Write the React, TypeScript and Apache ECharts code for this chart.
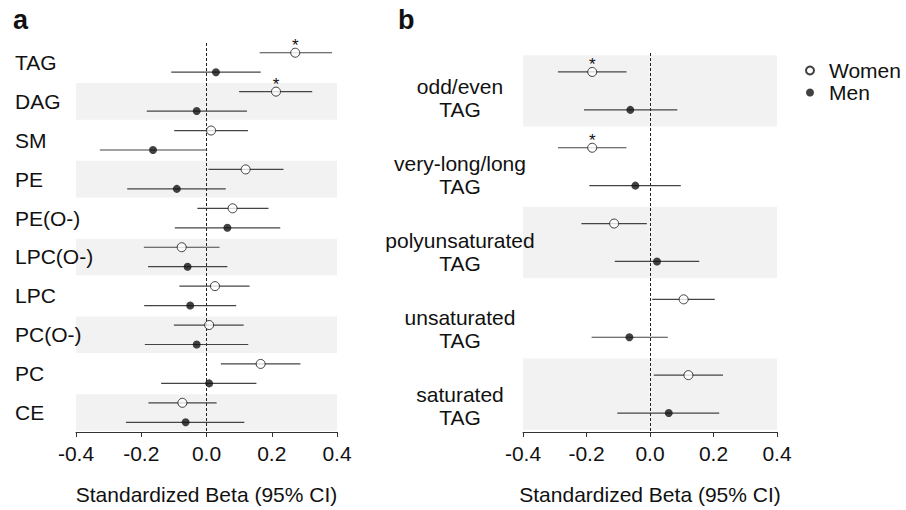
import React, { useEffect, useRef } from "react";
import * as echarts from "echarts";

const FONT = "'Liberation Sans', Arial, Helvetica, sans-serif";

// Panel a
const catsA = ["TAG", "DAG", "SM", "PE", "PE(O-)", "LPC(O-)", "LPC", "PC(O-)", "PC", "CE"];
const womenEstA = [0.272, 0.213, 0.014, 0.12, 0.08, -0.076, 0.026, 0.008, 0.166, -0.074];
const womenLoA = [0.163, 0.1, -0.099, 0.006, -0.028, -0.192, -0.083, -0.1, 0.044, -0.178];
const womenHiA = [0.385, 0.324, 0.127, 0.236, 0.19, 0.04, 0.132, 0.114, 0.288, 0.031];
const womenSigA = [1, 1, 0, 0, 0, 0, 0, 0, 0, 0];
const menEstA = [0.029, -0.03, -0.164, -0.091, 0.064, -0.058, -0.05, -0.03, 0.008, -0.064];
const menLoA = [-0.108, -0.183, -0.327, -0.243, -0.097, -0.179, -0.191, -0.189, -0.139, -0.247];
const menHiA = [0.166, 0.124, 0.0, 0.059, 0.226, 0.064, 0.091, 0.128, 0.153, 0.116];
const menSigA = [0, 0, 0, 0, 0, 0, 0, 0, 0, 0];

// Panel b
const catsB = ["odd/even\nTAG", "very-long/long\nTAG", "polyunsaturated\nTAG", "unsaturated\nTAG", "saturated\nTAG"];
const womenEstB = [-0.182, -0.182, -0.113, 0.106, 0.121];
const womenLoB = [-0.29, -0.29, -0.216, 0.007, 0.012];
const womenHiB = [-0.074, -0.074, -0.01, 0.204, 0.23];
const womenSigB = [1, 1, 0, 0, 0];
const menEstB = [-0.062, -0.046, 0.022, -0.065, 0.059];
const menLoB = [-0.208, -0.191, -0.111, -0.184, -0.103];
const menHiB = [0.086, 0.097, 0.155, 0.056, 0.218];
const menSigB = [0, 0, 0, 0, 0];

const xTicks = [-0.4, -0.2, 0.0, 0.2, 0.4];
const axisTitle = "Standardized Beta (95% CI)";

const OFF = 0.25;
const BAND = 0.47;

function ciRows(est: number[], lo: number[], hi: number[], sig: number[], off: number) {
  return est.map((e, i) => [lo[i], hi[i], i + off, e, sig[i]]);
}

function renderCI(params: any, api: any) {
  const y = api.value(2);
  const a = api.coord([api.value(0), y]);
  const b = api.coord([api.value(1), y]);
  const e = api.coord([api.value(3), y]);
  const children: any[] = [
    {
      type: "line",
      shape: { x1: a[0], y1: a[1], x2: b[0], y2: b[1] },
      style: { stroke: "#444", lineWidth: 1.2 },
    },
  ];
  if (api.value(4)) {
    children.push({
      type: "text",
      style: {
        text: "*",
        x: e[0],
        y: e[1] - 7,
        align: "center",
        verticalAlign: "middle",
        fontSize: 17,
        fontFamily: FONT,
        fill: "#111",
      },
    });
  }
  return { type: "group", children };
}

function panelSeries(
  idx: number,
  cats: string[],
  bandParity: number,
  wE: number[], wL: number[], wH: number[], wS: number[],
  mE: number[], mL: number[], mH: number[], mS: number[]
) {
  const yIdx = idx * 2;
  const bands = cats
    .map((_, i) => i)
    .filter((i) => i % 2 === bandParity)
    .map((i) => [{ yAxis: i - BAND }, { yAxis: i + BAND }]);
  return [
    {
      type: "line",
      xAxisIndex: idx,
      yAxisIndex: yIdx,
      data: [],
      z: 1,
      silent: true,
      markArea: {
        silent: true,
        itemStyle: { color: "#f2f2f2" },
        data: bands,
      },
      markLine: {
        silent: true,
        symbol: ["none", "none"],
        label: { show: false },
        lineStyle: { color: "#222", width: 1, type: [3, 2] },
        data: [{ xAxis: 0 }],
      },
    },
    {
      type: "custom",
      xAxisIndex: idx,
      yAxisIndex: yIdx,
      z: 3,
      silent: true,
      renderItem: renderCI,
      encode: { x: [0, 1, 3], y: 2 },
      data: [...ciRows(wE, wL, wH, wS, -OFF), ...ciRows(mE, mL, mH, mS, OFF)],
    },
    {
      name: "Women",
      type: "scatter",
      xAxisIndex: idx,
      yAxisIndex: yIdx,
      z: 5,
      symbol: "circle",
      symbolSize: 9,
      itemStyle: { color: "#fff", borderColor: "#111", borderWidth: 1 },
      data: wE.map((v, i) => [v, i - OFF]),
    },
    {
      name: "Men",
      type: "scatter",
      xAxisIndex: idx,
      yAxisIndex: yIdx,
      z: 5,
      symbol: "circle",
      symbolSize: 8,
      itemStyle: { color: "#111" },
      data: mE.map((v, i) => [v, i + OFF]),
    },
  ];
}

function xAxisDef(gridIndex: number) {
  return {
    type: "value",
    gridIndex,
    min: xTicks[0],
    max: xTicks[xTicks.length - 1],
    interval: 0.2,
    splitLine: { show: false },
    axisLine: { show: true, onZero: false, lineStyle: { color: "#333", width: 1 } },
    axisTick: { show: true, length: 5, lineStyle: { color: "#333" } },
    axisLabel: {
      fontSize: 21,
      fontFamily: FONT,
      color: "#111",
      margin: 11,
      formatter: (v: number) => v.toFixed(1),
    },
    name: axisTitle,
    nameLocation: "middle",
    nameGap: 52,
    nameTextStyle: { fontSize: 21, fontFamily: FONT, color: "#111" },
  };
}

function hiddenXAxis(gridIndex: number) {
  return { type: "value", gridIndex, min: -0.4, max: 0.4, show: false };
}

function valueYAxis(gridIndex: number, n: number) {
  return {
    type: "value",
    gridIndex,
    min: -0.5,
    max: n - 0.5,
    inverse: true,
    show: false,
    position: "left",
  };
}

function catYAxis(gridIndex: number, cats: string[], align: string, margin: number) {
  return {
    type: "category",
    gridIndex,
    data: cats,
    inverse: true,
    position: "left",
    boundaryGap: true,
    z: 10,
    axisLine: { show: false, onZero: false },
    axisTick: { show: false },
    splitLine: { show: false },
    axisLabel: {
      fontSize: 21,
      fontFamily: FONT,
      color: "#111",
      align,
      margin,
      lineHeight: 23,
      interval: 0,
      overflow: "none",
      hideOverlap: false,
    },
  };
}

export default function App() {
  const ref = useRef<HTMLDivElement>(null);
  useEffect(() => {
    if (!ref.current) return;
    const chart = echarts.init(ref.current, undefined, { renderer: "svg" });
    chart.setOption({
      animation: false,
      backgroundColor: "#fff",
      textStyle: { fontFamily: FONT },
      grid: [
        { left: 76, top: 43, width: 261, height: 394 },
        { left: 523, top: 53, width: 254, height: 384 },
        // label grid for panel b (labels sit slightly below the row centres)
        { left: 523, top: 60, width: 254, height: 384 },
      ],
      xAxis: [xAxisDef(0), xAxisDef(1), hiddenXAxis(2)],
      yAxis: [
        valueYAxis(0, catsA.length),
        catYAxis(0, catsA, "left", 61),
        valueYAxis(1, catsB.length),
        catYAxis(2, catsB, "center", 63),
      ],
      legend: {
        data: ["Women", "Men"],
        orient: "vertical",
        left: 800,
        top: 55,
        itemWidth: 28,
        itemHeight: 8,
        itemGap: 1,
        textStyle: { fontSize: 21, fontFamily: FONT, color: "#111" },
        selectedMode: false,
      },
      graphic: [
        {
          type: "text",
          left: 13,
          top: 6,
          style: { text: "a", fontSize: 27, fontWeight: "bold", fontFamily: FONT, fill: "#111" },
        },
        {
          type: "text",
          left: 398,
          top: 6,
          style: { text: "b", fontSize: 27, fontWeight: "bold", fontFamily: FONT, fill: "#111" },
        },
      ],
      series: [
        ...panelSeries(0, catsA, 1, womenEstA, womenLoA, womenHiA, womenSigA, menEstA, menLoA, menHiA, menSigA),
        ...panelSeries(1, catsB, 0, womenEstB, womenLoB, womenHiB, womenSigB, menEstB, menLoB, menHiB, menSigB),
      ],
    });
    return () => chart.dispose();
  }, []);
  return (
    <div
      ref={ref}
      style={{ position: "fixed", left: 0, top: 0, width: 906, height: 510, background: "#fff" }}
    />
  );
}
